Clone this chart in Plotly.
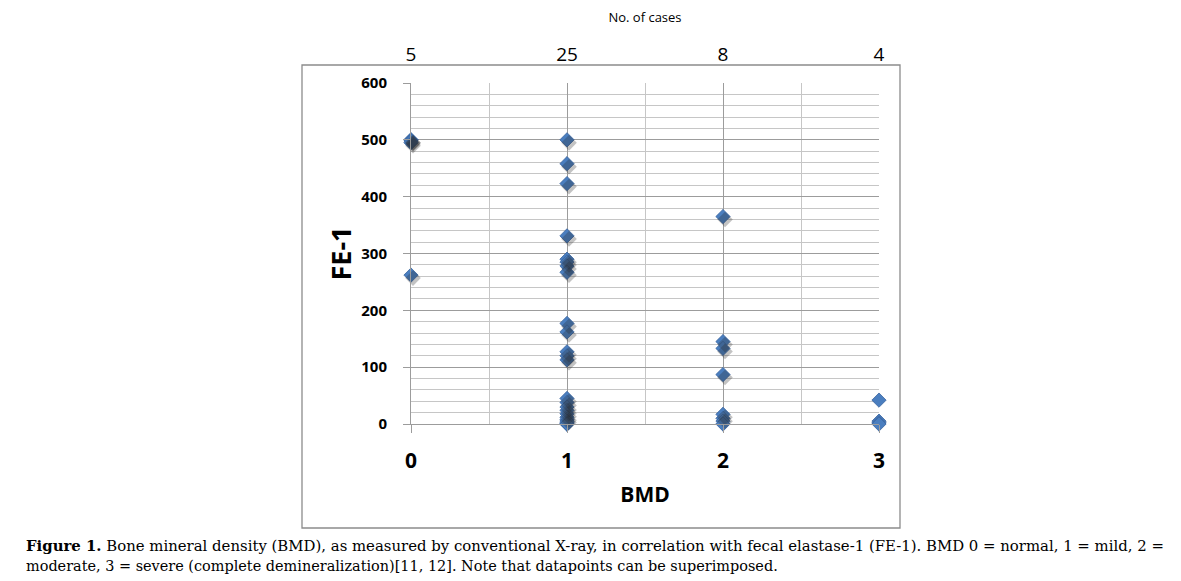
import plotly.graph_objects as go

# Data
bmd0 = [500, 500, 498, 495, 262]
bmd1 = [500, 458, 423, 331, 290, 285, 278, 267, 177, 162, 127, 120, 113,
        45, 38, 30, 24, 18, 12, 8, 5, 2, 0, 0, 0]
bmd2 = [365, 145, 133, 87, 17, 10, 5, 0]
bmd3 = [42, 5, 2, 0]
bmd_levels = [0, 1, 2, 3]
cases_labels = ["5", "25", "8", "4"]

xs = [0] * len(bmd0) + [1] * len(bmd1) + [2] * len(bmd2) + [3] * len(bmd3)
ys = bmd0 + bmd1 + bmd2 + bmd3

OFF = 8                      # page body margin
W, H = 1181 - OFF, 581 - OFF
L, R, T, B = 411 - OFF, 879 - OFF, 83 - OFF, 424 - OFF   # plot area in figure pixels
pw, ph = R - L, B - T


def px(xp):
    return (xp - OFF - L) / pw


def py(yp):
    return (B - (yp - OFF)) / ph


fig = go.Figure()

# shadow trace on shifted axes
dx, dy = 2.0, 3.0
fig.add_trace(go.Scatter(
    x=xs, y=ys, mode="markers", xaxis="x3", yaxis="y3",
    marker=dict(symbol="diamond", size=12, color="rgba(40,40,40,0.28)",
                line=dict(width=0)),
    hoverinfo="skip", showlegend=False, cliponaxis=False))

fig.add_trace(go.Scatter(
    x=xs, y=ys, mode="markers",
    marker=dict(symbol="diamond", size=11, color="#4A7EBF",
                line=dict(width=0.8, color="#3A64A0")),
    showlegend=False, cliponaxis=False))

# invisible trace for the top axis
fig.add_trace(go.Scatter(x=bmd_levels, y=[None] * 4, xaxis="x2",
                         mode="markers", showlegend=False, hoverinfo="skip"))

grid_major = "#9c9c9c"
grid_minor = "#c6c6c6"

fig.update_layout(
    width=W, height=H,
    margin=dict(l=L, r=W - R, t=T, b=H - B, pad=0, autoexpand=False),
    paper_bgcolor="white", plot_bgcolor="white",
    xaxis=dict(
        range=[0, 3], tickvals=bmd_levels, ticktext=[str(v) for v in bmd_levels],
        showgrid=True, gridcolor=grid_major, gridwidth=1,
        minor=dict(dtick=0.5, showgrid=True, gridcolor=grid_minor, ticks=""),
        showline=True, linecolor=grid_major, linewidth=1,
        ticks="outside", ticklen=8, tickcolor=grid_major,
        tickfont=dict(family="Open Sans", size=21, color="black", weight="bold"),
        ticklabelstandoff=10, automargin=False,
        title=dict(text="<b>BMD</b>", font=dict(family="Open Sans", size=21, color="black"),
                   standoff=14),
        zeroline=False, fixedrange=True,
    ),
    xaxis2=dict(
        range=[0, 3], overlaying="x", side="top", tickvals=bmd_levels,
        ticktext=cases_labels, showgrid=False, showline=False, ticks="",
        tickfont=dict(family="Open Sans", size=19, color="black"),
        ticklabelstandoff=17, automargin=False,
        title=dict(text="No. of cases", font=dict(family="Open Sans", size=13, color="black"),
                   standoff=20),
        zeroline=False, fixedrange=True,
    ),
    xaxis3=dict(range=[0 - dx / pw * 3, 3 - dx / pw * 3], overlaying="x",
                visible=False, fixedrange=True),
    yaxis3=dict(range=[0 + dy / ph * 600, 600 + dy / ph * 600], overlaying="y",
                visible=False, fixedrange=True, anchor="x3"),
    yaxis=dict(
        range=[0, 600], dtick=100,
        showgrid=True, gridcolor=grid_major, gridwidth=1,
        minor=dict(dtick=20, showgrid=True, gridcolor=grid_minor, ticks=""),
        showline=True, linecolor=grid_major, linewidth=1,
        ticks="outside", ticklen=7, tickcolor=grid_major,
        tickfont=dict(family="Open Sans", size=15, color="black", weight="bold"),
        ticklabelstandoff=13, automargin=False,
        title=dict(text="<b>FE-1</b>", font=dict(family="Open Sans", size=27, color="black"),
                   standoff=1),
        zeroline=False, fixedrange=True,
    ),
    shapes=[dict(type="rect", xref="paper", yref="paper",
                 x0=px(302), x1=px(900), y0=py(528), y1=py(65),
                 line=dict(color="#8c8c8c", width=1.3), layer="below")],
    annotations=[
        dict(xref="paper", yref="paper", x=px(24), y=py(546), xanchor="left", yanchor="middle",
             showarrow=False, align="left",
             text="<b>Figure 1.</b> Bone mineral density (BMD), as measured by conventional X-ray, "
                  "in correlation with fecal elastase-1 (FE-1). BMD 0 = normal, 1 = mild, 2 =",
             font=dict(family="DejaVu Serif", size=14.9, color="black")),
        dict(xref="paper", yref="paper", x=px(24), y=py(566), xanchor="left", yanchor="middle",
             showarrow=False, align="left",
             text="moderate, 3 = severe (complete demineralization)[11, 12]. "
                  "Note that datapoints can be superimposed.",
             font=dict(family="DejaVu Serif", size=14.45, color="black")),
    ],
)

fig.write_html("out.html")
